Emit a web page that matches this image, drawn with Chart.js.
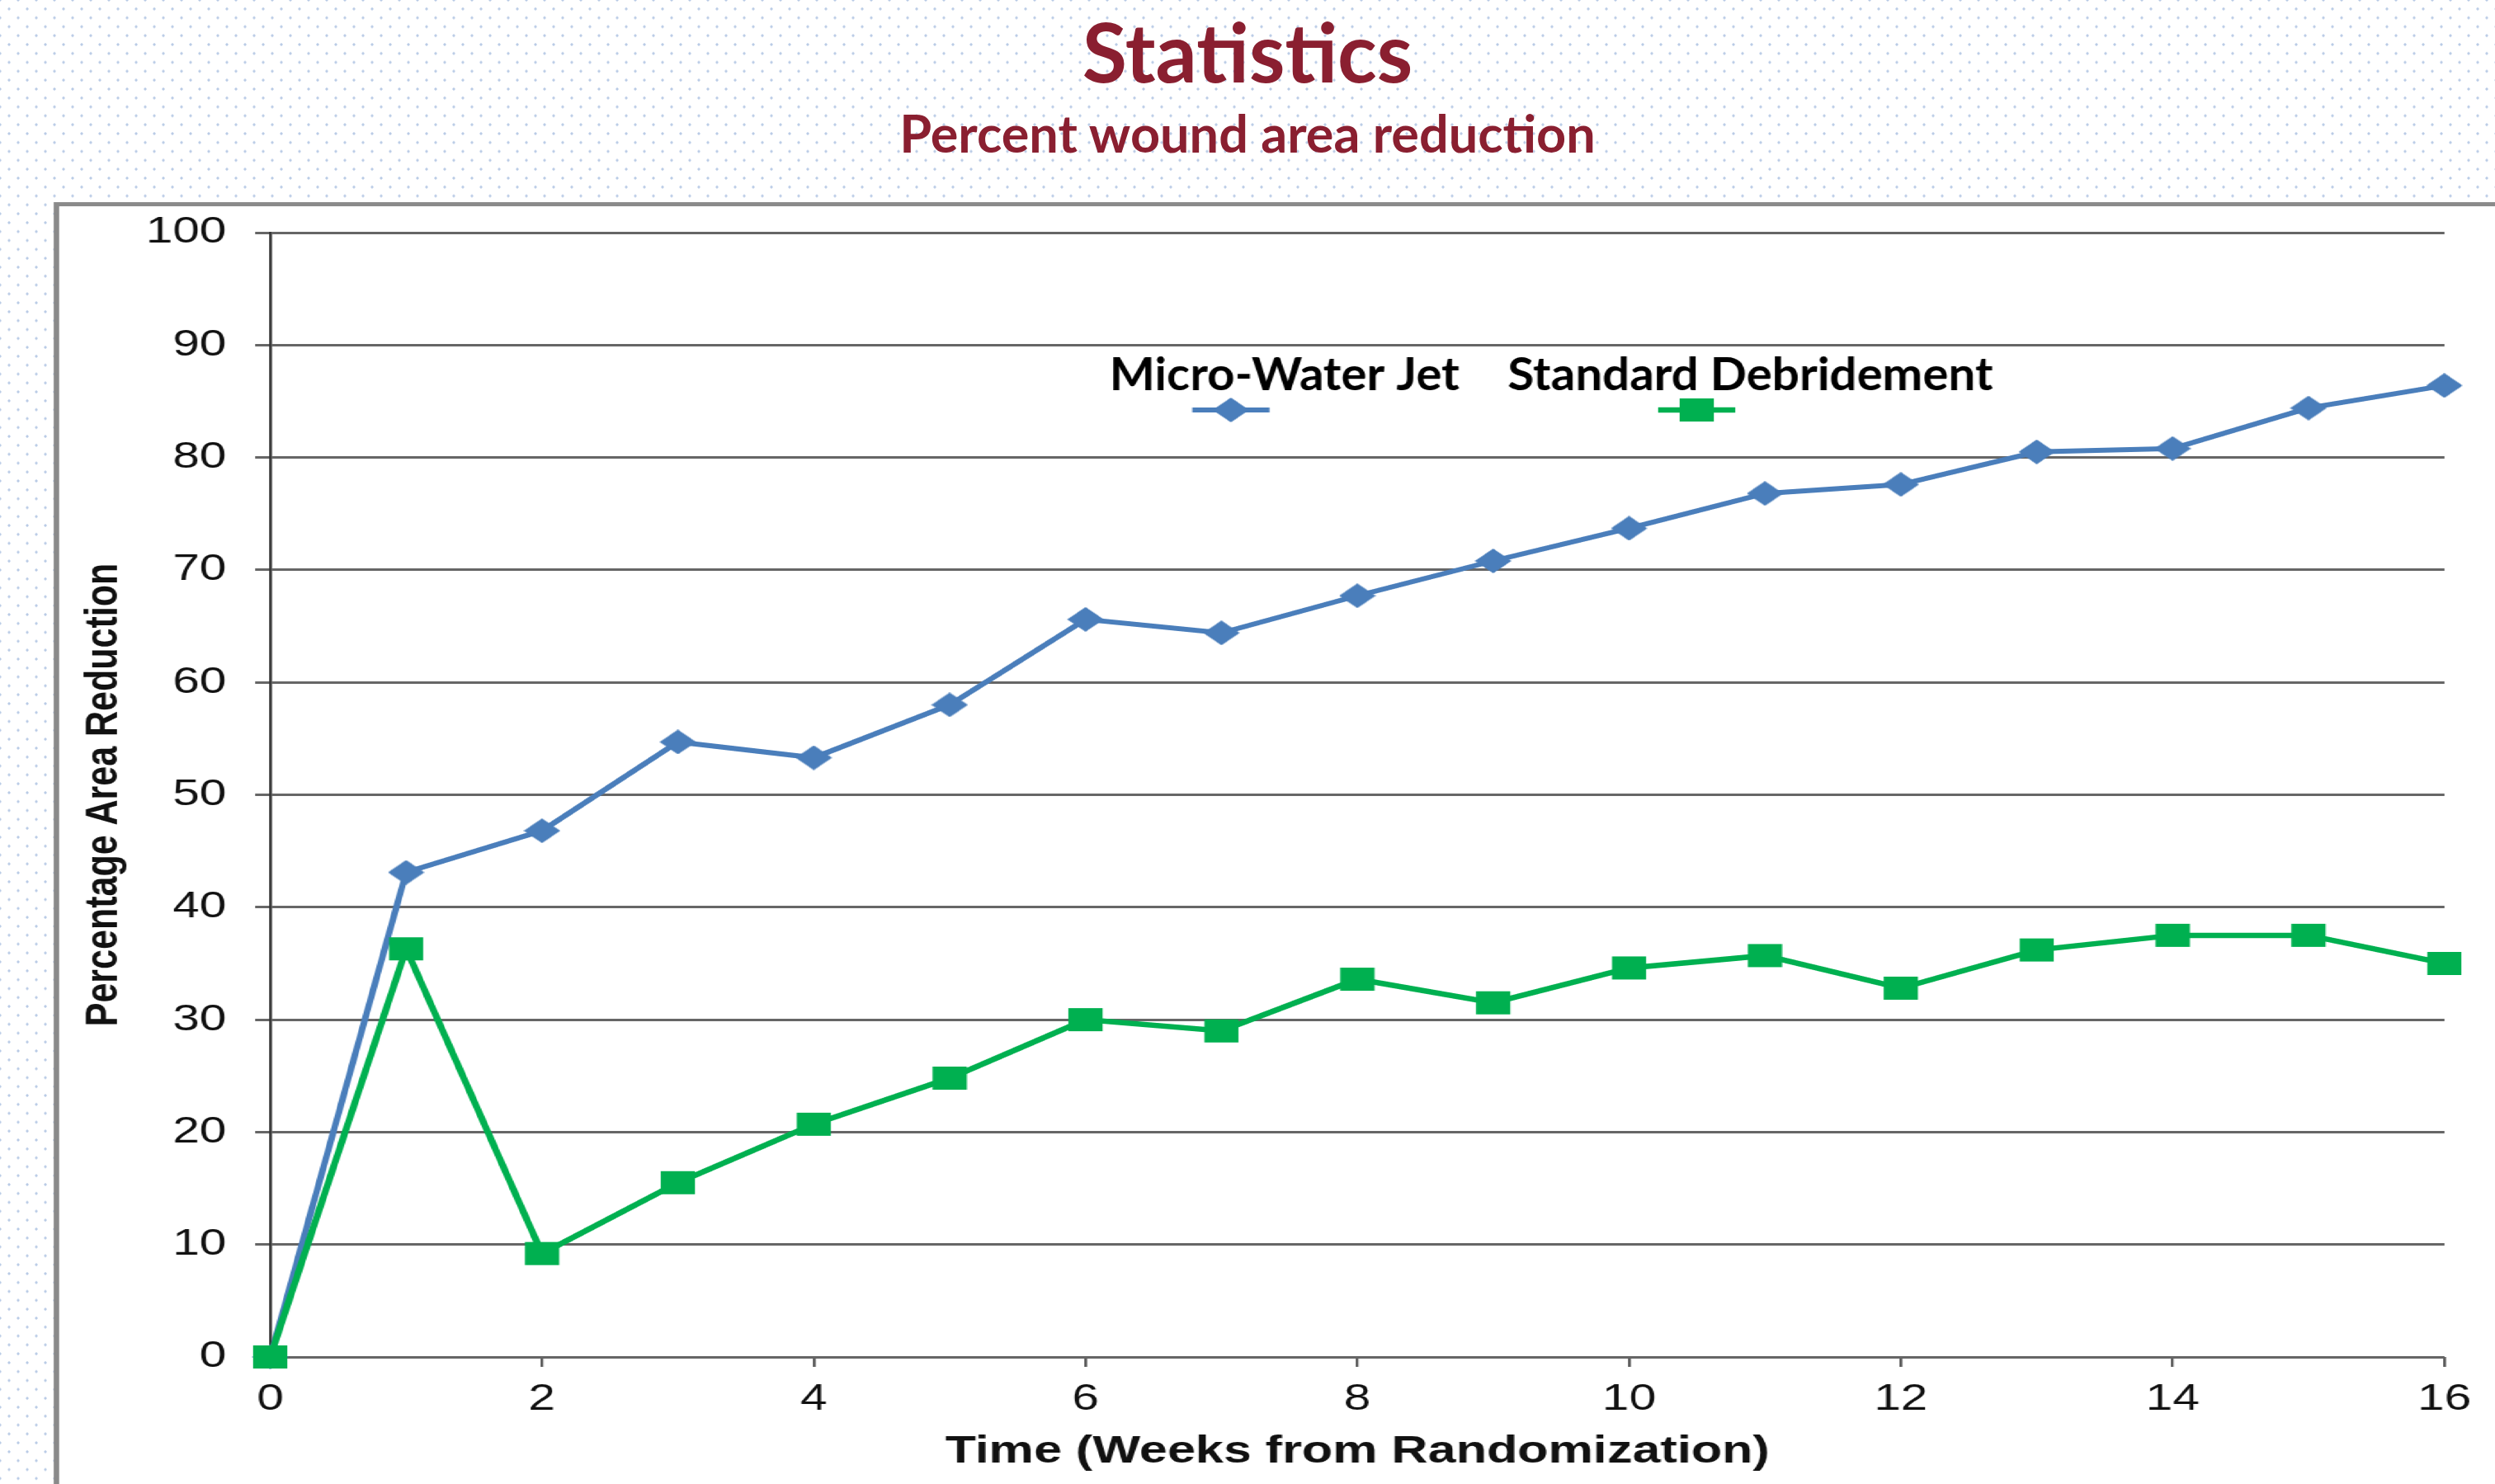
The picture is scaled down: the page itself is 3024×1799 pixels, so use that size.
<!DOCTYPE html>
<html>
<head>
<meta charset="utf-8">
<script src="https://cdn.jsdelivr.net/npm/chart.js@4.4.1/dist/chart.umd.min.js"></script>
<style>
html, body { margin: 0; padding: 0; }
body {
  width: 3024px; height: 1799px; overflow: hidden; position: relative;
  background-color: #fff;
  background-image: radial-gradient(circle, #b9cbe6 1.3px, rgba(255,255,255,0) 1.9px),
                    radial-gradient(circle, #b9cbe6 1.3px, rgba(255,255,255,0) 1.9px);
  background-size: 22px 21.6px;
  background-position: 0 0, 11px 10.8px;
}
.title {
  position: absolute; left: 0; width: 3024px; text-align: center;
  color: #8a1f30; font-family: Lato, sans-serif; font-weight: bold;
  line-height: 1; white-space: nowrap;
}
#t1 { top: 12px; font-size: 99px; }
#t2 { top: 129px; font-size: 63px; }
/* the slide picture is stretched sideways, so the chart is drawn narrow and widened */
#stage { position: absolute; left: 0; top: 0; width: 2326px; height: 1799px; transform: scaleX(1.3); transform-origin: 0 0; }
#box { position: absolute; left: 50px; top: 245px; width: 2400px; height: 1700px; border: 5px solid #8a8a8a; background: #fff; }
#wrap { position: absolute; left: 55px; top: 228px; width: 2271px; height: 1571px; }
</style>
</head>
<body>
<div class="title" id="t1">Statistics</div>
<div class="title" id="t2">Percent wound area reduction</div>
<div id="stage">
  <div id="box"></div>
  <div id="wrap"><canvas id="myChart" width="2271" height="1571"></canvas></div>
</div>
<script>
var weeks = [0, 1, 2, 3, 4, 5, 6, 7, 8, 9, 10, 11, 12, 13, 14, 15, 16];
var microWaterJet = [0, 43.1, 46.8, 54.7, 53.3, 58.0, 65.6, 64.4, 67.7, 70.8, 73.7, 76.8, 77.6, 80.5, 80.8, 84.4, 86.4];
var standardDebridement = [0, 36.3, 9.2, 15.5, 20.7, 24.8, 30.0, 29.0, 33.6, 31.5, 34.6, 35.7, 32.8, 36.2, 37.5, 37.5, 35.0];
var seriesNames = ['Micro-Water Jet', 'Standard Debridement'];
var xTitle = 'Time (Weeks from Randomization)';
var yTitle = 'Percentage Area Reduction';

var ctx = document.getElementById('myChart').getContext('2d');

// markers are wider than tall in the picture
function makeMarker(shape, color) {
  var c = document.createElement('canvas');
  c.width = 34;
  c.height = 30;
  var g = c.getContext('2d');
  g.fillStyle = color;
  g.beginPath();
  if (shape === 'diamond') {
    g.moveTo(17, 0); g.lineTo(34, 15); g.lineTo(17, 30); g.lineTo(0, 15);
  } else {
    g.rect(1, 1, 32, 28);
  }
  g.closePath();
  g.fill();
  return c;
}

function toPoints(values) {
  return weeks.map(function(w, i) { return {x: w, y: values[i]}; });
}

var blue = '#4a7ebb';
var green = '#00b050';
var tickFont = {family: '"Liberation Sans", Arial, sans-serif', size: 45};

// legend with the name on top and the line sample under it
var legendPlugin = {
  id: 'legendAboveMarks',
  afterDraw: function(chart) {
    var c = chart.ctx, area = chart.chartArea;
    var squeeze = 0.8;
    c.save();
    c.font = 'bold 56px Lato, "Liberation Sans", sans-serif';
    c.textBaseline = 'alphabetic';
    c.fillStyle = '#000';
    var x = area.left + 0.386 * (area.right - area.left);
    var textY = area.top + 191;
    var markY = area.top + 215;
    chart.data.datasets.forEach(function(ds) {
      var w = c.measureText(ds.label).width * squeeze;
      c.save();
      c.translate(x, textY);
      c.scale(squeeze, 1);
      c.fillText(ds.label, 0, 0);
      c.restore();
      var mx = x + w / 2 - 50;
      c.strokeStyle = ds.borderColor;
      c.lineWidth = ds.borderWidth;
      c.beginPath();
      c.moveTo(mx - 36, markY);
      c.lineTo(mx + 36, markY);
      c.stroke();
      c.drawImage(ds.pointStyle, mx - ds.pointStyle.width / 2, markY - ds.pointStyle.height / 2);
      x += w + 45;
    });
    c.restore();
  }
};

var config = {
  type: 'line',
  data: {
    datasets: [{
      label: seriesNames[0],
      data: toPoints(microWaterJet),
      borderColor: blue,
      backgroundColor: blue,
      borderWidth: 6,
      pointStyle: makeMarker('diamond', blue),
      pointRadius: 8,
      order: 2,
      clip: false
    }, {
      label: seriesNames[1],
      data: toPoints(standardDebridement),
      borderColor: green,
      backgroundColor: green,
      borderWidth: 6.5,
      pointStyle: makeMarker('square', green),
      pointRadius: 8,
      order: 1,
      clip: false
    }]
  },
  options: {
    responsive: false,
    animation: false,
    devicePixelRatio: 1,
    layout: {padding: {left: 0, right: 47, top: 0, bottom: 0}},
    plugins: {
      legend: {display: false},
      tooltip: {enabled: false}
    },
    scales: {
      x: {
        type: 'linear',
        min: 0,
        max: 16,
        ticks: {stepSize: 2, font: tickFont, color: '#111', padding: 13, maxRotation: 0},
        grid: {drawOnChartArea: false, drawTicks: true, tickLength: 12, color: '#555', lineWidth: 2.5},
        border: {display: false},
        title: {
          display: true, text: xTitle, color: '#111',
          font: {family: '"Liberation Sans", Arial, sans-serif', size: 47, weight: 'bold'},
          padding: {top: 0, bottom: 11}
        },
        afterFit: function(scale) { scale.height = 154; }
      },
      y: {
        min: 0,
        max: 100,
        ticks: {stepSize: 10, font: tickFont, color: '#111', padding: 27},
        grid: {color: '#666', lineWidth: 3, tickLength: 14, drawTicks: true},
        border: {display: true, color: '#333', width: 2.5},
        title: {
          display: true, text: yTitle, color: '#111',
          font: {family: '"Liberation Sans", Arial, sans-serif', size: 43, weight: 'bold'},
          padding: {top: 16, bottom: 0}
        },
        afterFit: function(scale) { scale.width = 197; }
      }
    }
  },
  plugins: [legendPlugin]
};

var chart = new Chart(ctx, config);
</script>
</body>
</html>
